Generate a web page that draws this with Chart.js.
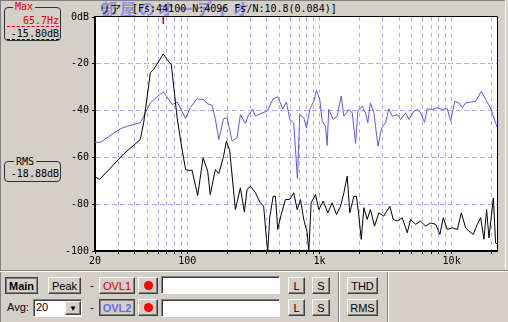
<!DOCTYPE html>
<html><head><meta charset="utf-8">
<script src="https://cdn.jsdelivr.net/npm/chart.js@4"></script>
<style>
html,body{margin:0;padding:0;}
body{width:508px;height:322px;background:#d4d0c8;position:relative;overflow:hidden;font-family:"Liberation Sans",Arial,sans-serif;font-size:11px;}
.a{position:absolute;}
.mono{font-family:"DejaVu Sans Mono",monospace;font-size:10px;line-height:11px;white-space:pre;}
.ln{position:absolute;}
.btn{position:absolute;box-sizing:border-box;background:#d4d0c8;border:1px solid;border-color:#fff #404040 #404040 #fff;box-shadow:inset -1px -1px #808080;font:11px "Liberation Sans",Arial,sans-serif;color:#000;display:flex;align-items:center;justify-content:center;}
.pr{border-color:#404040;box-shadow:inset 1px 1px #808080,inset -1px -1px #808080;font-weight:bold;}
.edit{position:absolute;box-sizing:border-box;background:#fff;border:1px solid;border-color:#808080 #fff #fff #808080;box-shadow:inset 1px 1px #404040;}
.dot{width:9px;height:9px;border-radius:50%;background:#ff0000;}
.grp{position:absolute;box-sizing:border-box;border:1px solid #303030;border-radius:4px;}
</style>
</head>
<body>
<!-- panel lines -->
<div class="ln" style="left:0;top:0;width:506px;height:1px;background:#808080"></div>
<div class="ln" style="left:0;top:0;width:1px;height:322px;background:#808080"></div>
<div class="ln" style="left:505px;top:0;width:1px;height:271px;background:#fff"></div>
<div class="ln" style="left:0;top:270px;width:508px;height:1px;background:#808080"></div>
<div class="ln" style="left:0;top:271px;width:508px;height:1px;background:#fff"></div>
<div class="ln" style="left:338px;top:272px;width:1px;height:50px;background:#808080"></div>
<div class="ln" style="left:339px;top:272px;width:1px;height:50px;background:#fff"></div>
<div class="ln" style="left:387px;top:272px;width:1px;height:50px;background:#808080"></div>
<div class="ln" style="left:388px;top:272px;width:1px;height:50px;background:#fff"></div>

<!-- title -->
<div class="a" style="left:101px;top:-1px;font-family:'Noto Sans CJK JP';font-weight:bold;font-size:16px;line-height:19px;letter-spacing:3px;color:rgba(100,100,235,0.6);white-space:nowrap;">部屋のオーディオ</div>
<div class="a" style="left:99px;top:3px;font-family:'Noto Sans CJK JP';font-size:11px;line-height:12px;color:#000;white-space:nowrap;">リア</div>
<div class="a mono" style="left:132px;top:3px;color:#000;">[Fs:44100 N:4096 Fs/N:10.8(0.084)]</div>

<!-- Max box -->
<div class="grp" style="left:4px;top:7px;width:57px;height:34px;"></div>
<div class="a mono" style="left:13px;top:1px;background:#d4d0c8;color:#e00000;padding:0 2px;">Max</div>
<div class="a mono" style="left:7px;top:15px;width:52px;text-align:right;color:#e00000;border-bottom:1px dashed #e00000;">65.7Hz</div>
<div class="a mono" style="left:7px;top:28px;width:52px;text-align:right;color:#000;border-bottom:1px dashed #000;">-15.80dB</div>

<!-- RMS box -->
<div class="grp" style="left:4px;top:161px;width:57px;height:21px;"></div>
<div class="a mono" style="left:14px;top:156px;background:#d4d0c8;color:#000;padding:0 2px;">RMS</div>
<div class="a mono" style="left:7px;top:168px;width:52px;text-align:right;color:#000;">-18.88dB</div>

<canvas id="c" width="508" height="272" style="position:absolute;left:0;top:0;"></canvas>

<!-- bottom controls -->
<div class="btn pr" style="left:5px;top:277px;width:33px;height:17px;">Main</div>
<div class="btn" style="left:48px;top:277px;width:33px;height:17px;">Peak</div>
<div class="a" style="left:90px;top:279px;">-</div>
<div class="btn" style="left:99px;top:277px;width:36px;height:17px;color:#d00000;">OVL1</div>
<div class="btn" style="left:138px;top:277px;width:20px;height:17px;"><div class="dot"></div></div>
<div class="edit" style="left:161px;top:276px;width:119px;height:18px;"></div>
<div class="btn" style="left:288px;top:277px;width:17px;height:17px;">L</div>
<div class="btn" style="left:312px;top:277px;width:18px;height:17px;">S</div>
<div class="btn" style="left:347px;top:277px;width:31px;height:17px;">THD</div>

<div class="a" style="left:7px;top:301px;">Avg:</div>
<div class="edit" style="left:33px;top:299px;width:49px;height:18px;"></div>
<div class="a" style="left:36px;top:301px;">20</div>
<div class="btn" style="left:65px;top:301px;width:16px;height:14px;font-size:8px;">&#9660;</div>
<div class="a" style="left:90px;top:301px;">-</div>
<div class="btn pr" style="left:99px;top:299px;width:36px;height:17px;color:#6a6ae0;">OVL2</div>
<div class="btn" style="left:138px;top:299px;width:20px;height:17px;"><div class="dot"></div></div>
<div class="edit" style="left:161px;top:299px;width:119px;height:18px;"></div>
<div class="btn" style="left:288px;top:299px;width:17px;height:17px;">L</div>
<div class="btn" style="left:312px;top:299px;width:18px;height:17px;">S</div>
<div class="btn" style="left:347px;top:299px;width:31px;height:17px;">RMS</div>

<script>
// ---- data (frequency in Hz, level in dB) ----
const blackFreq = [20,21.7,33,44,46.7,52.5,55.6,65.7,70.9,75.6,83.6,91.2,97,100,108.5,119.7,131.5,142.5,149,163,173,188,197.5,209,231,252,270,283,300,327,357,378,397,406,420,446,464,483,513,553,596,638,678,718,760,807,830,865,933,988,1067,1156,1248,1345,1442,1530,1620,1697,1820,1906,1986,2070,2167,2297,2430,2610,2812,3070,3220,3410,3614,3880,4232,4615,4890,5335,5820,6350,6934,7570,8150,8650,9270,10120,11040,11850,12760,13520,14590,15660,16590,17570,18400,19170,20700,21500,22050];
const blackDb = [-68.3,-69.4,-58.5,-52.4,-45.2,-23.8,-22.4,-15.8,-18.5,-20.3,-43,-56.6,-65.2,-65.5,-65.5,-76.3,-60.2,-65.9,-75.9,-65.2,-66.9,-59.5,-53,-57,-82.3,-73,-83.4,-73.7,-72.3,-75.1,-79.4,-80.9,-95,-100,-85.8,-76.6,-76.6,-90.8,-84.4,-78,-78,-75.1,-82.3,-78,-86.5,-92.2,-100,-79.4,-75.9,-82.3,-78.7,-83.7,-79.4,-84.4,-80.9,-75.1,-68,-83.7,-76.6,-76.6,-85.1,-95,-81.5,-86.5,-82.3,-89.4,-83.7,-85.1,-83,-80.9,-86.5,-87.2,-85.8,-92.2,-86.5,-88.6,-87.2,-89.4,-88,-88.6,-92.9,-85.8,-90.8,-90.1,-90.8,-83.7,-90.1,-91.5,-92.9,-88.6,-85.8,-95,-82.3,-94.4,-77.3,-96.5,-97];
const blueFreq = [20,22,31,35,44,48,52.5,59,65.5,70,77,84,97,105,118,133,141,154,163,173,188,200,218,238,252,275,291,313,327,368,402,446,483,527,562,596,638,681,709,760,797,844,906,949,1005,1048,1110,1143,1175,1270,1360,1460,1530,1670,1770,1875,1950,2106,2230,2320,2430,2580,2770,2950,3160,3350,3560,3880,4110,4490,4750,5180,5500,5820,6240,6540,7140,7800,8510,9270,9830,10540,11350,12050,12760,13930,15200,16800,18100,19700,21500,22050];
const blueDb = [-53.5,-53.5,-47.8,-46.7,-45.2,-41,-36.7,-34.1,-32,-34.1,-37.4,-36.4,-43.4,-38.8,-35,-35.3,-37,-37.8,-43.8,-52.4,-43.5,-43,-53,-51.6,-41.7,-45.5,-41.7,-39.5,-42.4,-41,-40.2,-35,-34.1,-39.2,-36.4,-43.8,-45.2,-69,-41.7,-43,-47.4,-39.5,-36,-31.3,-35.3,-44.5,-46.7,-54.9,-39.5,-43.8,-42.4,-33.8,-42.4,-39.5,-41,-54,-40.2,-38.1,-41,-45.2,-36.7,-41,-55.2,-47.4,-45.2,-39.2,-42.4,-41.7,-43.8,-41,-43.8,-40.2,-39.5,-41,-45,-39.2,-39.5,-38.8,-39.5,-39.2,-44.5,-36,-36.7,-38.8,-36.7,-36.4,-36,-31.7,-35.3,-38.8,-45.2,-47];
const gridFreqs = [20,30,40,50,60,70,80,90,100,200,300,400,500,600,700,800,900,1000,2000,3000,4000,5000,6000,7000,8000,9000,10000,20000];
const xTickLabels = {20:'20',100:'100',1000:'1k',10000:'10k'};
const yTicks = [0,-20,-40,-60,-80,-100];
const yTickLabels = ['0dB','-20','-40','-60','-80','-100'];
const peakFreq = 65.7;

const gridColor = 'rgb(172,172,255)';
const tickFont = {family:'DejaVu Sans Mono', size:10};

const framePlugin = {
  id:'frame',
  beforeDraw(chart){
    const {ctx, chartArea:a} = chart;
    ctx.save();
    ctx.fillStyle = '#fff';
    ctx.fillRect(a.left, a.top, a.right - a.left, a.bottom - a.top);
    ctx.restore();
  },
  afterDraw(chart){
    const {ctx, chartArea:a, scales} = chart;
    ctx.save();
    ctx.strokeStyle = '#000';
    ctx.lineWidth = 1;
    ctx.beginPath();
    ctx.moveTo(a.left, Math.round(a.top) - 0.5);
    ctx.lineTo(Math.round(a.right) + 0.5, Math.round(a.top) - 0.5);
    ctx.lineTo(Math.round(a.right) + 0.5, a.bottom);
    ctx.stroke();
    // peak marker
    const px = scales.x.getPixelForValue(peakFreq);
    ctx.strokeStyle = '#e00000';
    ctx.lineWidth = 1.5;
    ctx.beginPath();
    ctx.moveTo(px, a.top);
    ctx.lineTo(px, a.top + 7);
    ctx.stroke();
    ctx.restore();
  }
};

new Chart(document.getElementById('c').getContext('2d'), {
  type:'line',
  data:{datasets:[
    {data: blackFreq.map((f,i)=>({x:f,y:blackDb[i]})), borderColor:'#000', borderWidth:1, pointRadius:0, tension:0, fill:false},
    {data: blueFreq.map((f,i)=>({x:f,y:blueDb[i]})), borderColor:'#5a5ae6', borderWidth:1, pointRadius:0, tension:0, fill:false}
  ]},
  options:{
    responsive:false, animation:false, devicePixelRatio:1,
    events:[],
    layout:{padding:{left:0,right:11,top:17,bottom:0}},
    plugins:{legend:{display:false}, tooltip:{enabled:false}},
    scales:{
      x:{
        type:'logarithmic', min:20, max:22050,
        afterBuildTicks:s=>{ s.ticks = gridFreqs.map(v=>({value:v})); },
        afterFit:s=>{ s.height = 21; },
        ticks:{autoSkip:false, maxRotation:0, minRotation:0, padding:1, color:'#000', font:tickFont,
          callback:(v)=> xTickLabels[v] || ''},
        grid:{color:c=> (c.tick && c.tick.value===20) ? 'rgba(0,0,0,0)' : gridColor, lineWidth:1,
          drawTicks:true, tickLength:3, tickColor:'#000', tickWidth:1},
        border:{display:true, color:'#000', width:2, dash:[4,4]}
      },
      y:{
        min:-100, max:0,
        afterBuildTicks:s=>{ s.ticks = yTicks.map(v=>({value:v})); },
        afterFit:s=>{ s.width = 95; },
        ticks:{padding:3, color:'#000', font:tickFont,
          callback:(v)=>{ const i = yTicks.indexOf(v); return i < 0 ? '' : yTickLabels[i]; }},
        grid:{color:c=> (c.tick && (c.tick.value===0 || c.tick.value===-100)) ? 'rgba(0,0,0,0)' : gridColor, lineWidth:1,
          drawTicks:true, tickLength:3, tickColor:'#000', tickWidth:1},
        border:{display:true, color:'#000', width:2, dash:[5,3]}
      }
    }
  },
  plugins:[framePlugin]
});
</script>
</body></html>
